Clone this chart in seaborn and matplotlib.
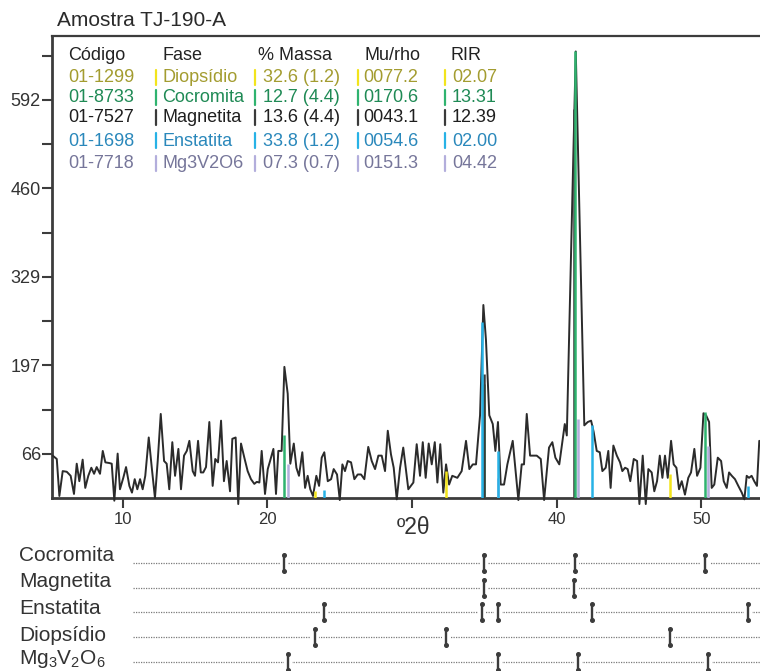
import matplotlib
matplotlib.use("Agg")
import matplotlib.pyplot as plt
import matplotlib.transforms as mtransforms
import seaborn as sns
import numpy as np
import pandas as pd

# ---------------- data ----------------
two_theta = [5.16, 5.44, 5.62, 5.85, 6.13, 6.40, 6.63, 6.82, 7.00, 7.23, 7.41, 7.62, 7.83, 8.02, 8.20, 8.43,
             8.62, 8.80, 9.07, 9.24, 9.42, 9.65, 9.81, 10.04, 10.23, 10.46, 10.64, 10.83, 11.01, 11.20, 11.38,
             11.56, 11.80, 12.01, 12.23, 12.42, 12.63, 12.86, 13.04, 13.22, 13.43, 13.62, 13.85, 14.03, 14.24,
             14.43, 14.61, 14.84, 15.00, 15.21, 15.40, 15.57, 15.76, 15.99, 16.22, 16.40, 16.59, 16.80, 17.00,
             17.19, 17.42, 17.58, 17.81, 17.99, 18.18, 18.41, 18.64, 18.87, 19.10, 19.27, 19.45, 19.61, 19.84,
             20.03, 20.19, 20.42, 20.60, 20.76, 20.99, 21.18, 21.41, 21.59, 21.83, 22.01, 22.19, 22.42, 22.61,
             22.79, 22.97, 23.16, 23.39, 23.58, 23.76, 23.94, 24.18, 24.41, 24.59, 24.82, 25.01, 25.19, 25.37,
             25.56, 25.79, 26.02, 26.25, 26.48, 26.71, 26.98, 27.22, 27.45, 27.68, 27.91, 28.14, 28.33, 28.55,
             28.74, 28.95, 29.18, 29.40, 29.75, 30.10, 30.33, 30.56, 30.75, 30.95, 31.16, 31.37, 31.58, 31.76,
             31.96, 32.17, 32.36, 32.57, 32.79, 33.14, 33.44, 33.74, 33.97, 34.21, 34.43, 34.71, 34.94, 35.12,
             35.35, 35.59, 35.77, 35.95, 36.14, 36.37, 36.60, 36.97, 37.36, 37.59, 37.75, 37.94, 38.17, 38.63,
             38.91, 39.14, 39.48, 39.71, 39.92, 40.19, 40.57, 40.71, 41.33, 41.92, 42.16, 42.39, 42.57, 42.78,
             42.99, 43.17, 43.40, 43.58, 43.74, 43.93, 44.17, 44.39, 44.55, 44.74, 44.92, 45.10, 45.34, 45.57,
             45.73, 45.96, 46.17, 46.35, 46.58, 46.76, 46.95, 47.14, 47.32, 47.50, 47.69, 47.92, 48.10, 48.29,
             48.47, 48.66, 48.88, 49.11, 49.30, 49.53, 49.72, 49.95, 50.16, 50.34, 50.55, 50.73, 50.91, 51.15,
             51.38, 51.56, 51.77, 51.93, 52.12, 52.34, 52.57, 52.81, 52.99, 53.15, 53.31, 53.49, 53.67, 53.86,
             54.02]
intensity = [63, 58, 3, 40, 39, 33, 6, 51, 25, 57, 15, 33, 45, 36, 46, 36,
             70, 53, 52, 51, -4, 66, 13, 30, 46, 18, 8, 28, 13, 28, 13,
             33, 90, 45, 0, 55, 125, 55, 51, 13, 83, 33, 73, 13, 63,
             70, 85, 40, 33, 85, 38, 38, 46, 113, 18, 58, 53, 115, 25,
             55, 10, 88, 90, -9, 81, 60, 40, 28, 21, 24, 23, 70, 6,
             43, 55, 73, 6, 70, 70, 195, 155, 51, 81, 45, 33, 68, 15,
             33, 13, 3, 33, 18, 60, 68, 25, 28, 43, 35, -3, 50, 40,
             55, 53, 28, 35, 35, 28, 76, 55, 43, 63, 63, 40, 100, 65,
             45, -2, 45, 75, 13, 23, 80, 33, 83, 30, 81, 50, 83, 23,
             80, 8, 50, 20, 33, 30, 40, 85, 43, 50, 50, 123, 287, 235,
             123, 110, 70, 113, 20, 20, 50, 85, -3, 50, 50, 125, 63, 63,
             58, -3, 75, 83, 60, 50, 110, 93, 664, 108, 113, 115, 98, 70,
             68, 40, 45, 70, 15, 78, 63, 53, 40, 45, 43, 25, 58, 55,
             -9, 63, -9, 43, 38, 10, 25, 63, 30, 63, 30, 85, 50, 45,
             13, 25, 5, 30, 38, 73, 33, 45, 126, 123, 113, 15, 20, 60,
             55, 25, 15, 38, 33, 28, 18, 8, -2, 33, 30, 33, 25, 18,
             85]

# phase reference peaks (position in 2theta, relative height in counts)
pos_cocromita = [21.18, 34.98, 41.30, 50.30]
h_cocromita = [93, 170, 664, 128]
pos_magnetita = [34.98, 41.24]
h_magnetita = [185, 579]
pos_enstatita = [23.94, 34.86, 35.93, 42.43, 53.27]
h_enstatita = [12, 262, 70, 108, 18]
pos_diopsidio = [23.29, 32.34, 47.85]
h_diopsidio = [10, 40, 35]
pos_mg3v2o6 = [21.41, 35.98, 41.51, 50.50]
h_mg3v2o6 = [50, 30, 118, 78]

# table
tab_headers = ["Código", "Fase", "% Massa", "Mu/rho", "RIR"]
tab_codes = ["01-1299", "01-8733", "01-7527", "01-1698", "01-7718"]
tab_phases = ["Diopsídio", "Cocromita", "Magnetita", "Enstatita", "Mg3V2O6"]
tab_mass = ["32.6 (1.2)", "12.7 (4.4)", "13.6 (4.4)", "33.8 (1.2)", "07.3 (0.7)"]
tab_murho = ["0077.2", "0170.6", "0043.1", "0054.6", "0151.3"]
tab_rir = ["02.07", "13.31", "12.39", "02.00", "04.42"]

ytick_vals = [65.8, 197.4, 329.0, 460.6, 592.2]
ytick_labels = ["66", "197", "329", "460", "592"]
yminor_vals = [131.6, 263.2, 394.8, 526.4, 657.9]
xtick_vals = [10, 20, 30, 40, 50]
xtick_labels = ["10", "20", "", "40", "50"]

bottom_names = ["Cocromita", "Magnetita", "Enstatita", "Diopsídio", "Mg$_3$V$_2$O$_6$"]

# ---------------- style ----------------
sns.set_style("ticks")
plt.rcParams["font.family"] = ["Liberation Sans", "DejaVu Sans"]
plt.rcParams["mathtext.fontset"] = "custom"
plt.rcParams["mathtext.rm"] = "Liberation Sans"
plt.rcParams["mathtext.it"] = "Liberation Sans:italic"
plt.rcParams["mathtext.bf"] = "Liberation Sans:bold"

C_DIO, T_DIO = "#f2e41c", "#a39c30"
C_COC, T_COC = "#2fb36f", "#1f8a55"
C_MAG, T_MAG = "#3a3a3a", "#1e1e1e"
C_ENS, T_ENS = "#27b2e6", "#2a88bb"
C_MGV, T_MGV = "#b3aedc", "#76769a"
AX_COL = "#3c3c3c"

W, H = 760, 671
fig = plt.figure(figsize=(W / 100, H / 100), dpi=100)

def fx(px):
    return px / W

def fy(py):
    return 1 - py / H

# main axes
ax = fig.add_axes([fx(52), fy(498), 1 - fx(52), fy(36) - fy(498)])
df = pd.DataFrame({"two_theta": two_theta, "intensity": intensity})
sns.lineplot(data=df, x="two_theta", y="intensity", ax=ax, color="#2b2b2b", lw=1.4,
             sort=False, estimator=None, zorder=3)
for line in ax.lines:
    line.set_clip_on(False)

def sticks(pos, h, col, z):
    ax.vlines(pos, 0, h, colors=col, lw=1.8, zorder=z)

sticks(pos_cocromita[:2], h_cocromita[:2], C_COC, 4)
sticks(pos_magnetita, h_magnetita, C_MAG, 5)
sticks(pos_mg3v2o6, h_mg3v2o6, C_MGV, 4)
sticks(pos_enstatita, h_enstatita, C_ENS, 6)
sticks(pos_diopsidio, h_diopsidio, C_DIO, 6)
sticks(pos_cocromita[2:], h_cocromita[2:], C_COC, 7)

ax.set_xlim(5.11, 54.07)
ax.set_ylim(0, 687)
ax.set_yticks(ytick_vals)
ax.set_yticklabels(ytick_labels)
ax.set_yticks(yminor_vals, minor=True)
ax.set_xticks(xtick_vals)
ax.set_xticklabels(xtick_labels)
ax.tick_params(axis="both", which="both", direction="out", length=7, width=1.5,
               colors=AX_COL, labelcolor="#333333")
ax.tick_params(axis="y", labelsize=13, pad=1)
ax.tick_params(axis="x", labelsize=12, pad=3)
ax.set_xlabel("º2θ", fontsize=16.5, color="#333333")
ax.xaxis.label.set_va("center")
ax.xaxis.set_label_coords((413 - 52) / 708, (498 - 527) / 462)
ax.set_ylabel("")
for s in ["left", "bottom"]:
    ax.spines[s].set_linewidth(2)
    ax.spines[s].set_color(AX_COL)
ax.spines["top"].set_visible(True)
ax.spines["top"].set_linewidth(1.6)
ax.spines["top"].set_color(AX_COL)
ax.spines["right"].set_visible(False)
ax.set_facecolor("white")

fig.text(fx(57), fy(20), "Amostra TJ-190-A", fontsize=15, color="#2a2a2a", va="center", ha="left")

# table inside plot
hdr_x = [68, 162, 258, 365, 451]
for hx, t in zip(hdr_x, tab_headers):
    fig.text(fx(hx), fy(55), t, fontsize=13, color="#222222", va="center", ha="left")
row_y = [78, 98, 118, 141, 164]
bar_cols = [C_DIO, C_COC, C_MAG, C_ENS, C_MGV]
txt_cols = [T_DIO, T_COC, T_MAG, T_ENS, T_MGV]
bar_x = [156, 255, 358, 445]
txt_x = [162, 263, 363, 452]
for i, ry in enumerate(row_y):
    fig.text(fx(68), fy(ry), tab_codes[i], fontsize=13, color=txt_cols[i], va="center", ha="left")
    vals = [tab_phases[i], tab_mass[i], tab_murho[i], tab_rir[i]]
    for bx, tx, v in zip(bar_x, txt_x, vals):
        fig.add_artist(plt.Line2D([fx(bx), fx(bx)], [fy(ry - 8), fy(ry + 7)],
                                  transform=fig.transFigure, color=bar_cols[i], lw=1.6))
        fig.text(fx(tx), fy(ry), v, fontsize=13, color=txt_cols[i], va="center", ha="left")

# bottom stick panel
axb = fig.add_axes([fx(52), 0, 1 - fx(52), fy(540)], sharex=ax)
axb.set_ylim(H, 540)
axb.axis("off")
row_centers = [563.5, 588.5, 612, 637.5, 662.5]
label_y = [556, 582, 609, 636, 659]
bottom_pos = [pos_cocromita, pos_magnetita, pos_enstatita, pos_diopsidio, pos_mg3v2o6]
blend = mtransforms.blended_transform_factory(fig.transFigure, axb.transData)
for name, yc, ly, plist in zip(bottom_names, row_centers, label_y, bottom_pos):
    axb.text(fx(19), ly, name, transform=blend, fontsize=15, color="#333333",
             va="center", ha="left")
    axb.plot([10.69, 54.5], [yc, yc], color="#7a7a7a", lw=0.9, ls=(0, (1, 1)), zorder=1)
    for p in plist:
        axb.plot([p - 0.28, p + 0.28], [yc, yc], color="white", lw=3, zorder=2, solid_capstyle="butt")
        axb.plot([p, p], [yc - 8, yc + 8], color="#3c3c3c", lw=1.7, marker="o", markersize=2.6, zorder=3)
ax.set_xlim(5.11, 54.07)

fig.savefig("out.png", dpi=100, facecolor="white")
